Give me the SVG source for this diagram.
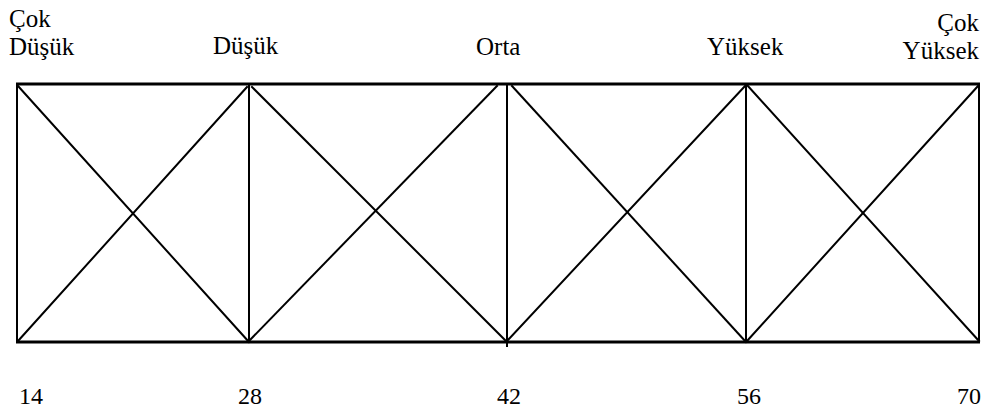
<svg xmlns="http://www.w3.org/2000/svg" width="998" height="410" viewBox="0 0 998 410">
<style>
text{font-family:'Liberation Serif','Tinos','Times New Roman','DejaVu Serif',serif;fill:#000}
.t{font-size:25px}
.n{font-size:24px}
.ln{stroke:#000;stroke-width:2;fill:none;stroke-linecap:square}
.hb{stroke:#000;stroke-width:3;fill:none}
</style>
<rect width="998" height="410" fill="#fff"/>
<g id="labels-top">
<g id="cok-dusuk"><text class="t" x="9" y="27">Çok</text><text class="t" x="9" y="55">Düşük</text></g>
<g id="dusuk"><text class="t" x="213" y="54">Düşük</text></g>
<g id="orta"><text class="t" x="476" y="55">Orta</text></g>
<g id="yuksek"><text class="t" x="707" y="55">Yüksek</text></g>
<g id="cok-yuksek"><text class="t" x="979" y="31" text-anchor="end">Çok</text><text class="t" x="979" y="59" text-anchor="end">Yüksek</text></g>
</g>
<g id="scale">
<text class="n" x="19" y="404">14</text>
<text class="n" x="238" y="404">28</text>
<text class="n" x="497" y="404">42</text>
<text class="n" x="737" y="404">56</text>
<text class="n" x="957" y="404">70</text>
</g>
<g id="connectors">
<line class="hb" x1="16" y1="84" x2="980" y2="84"/>
<line class="hb" x1="16" y1="342" x2="980" y2="342"/>
<line class="ln" x1="17" y1="84" x2="17" y2="342"/>
<line class="ln" x1="249" y1="84" x2="249" y2="342"/>
<line class="ln" x1="507" y1="84" x2="507" y2="346"/>
<line class="ln" x1="746" y1="84" x2="746" y2="342"/>
<line class="ln" x1="979" y1="84" x2="979" y2="342"/>
<line class="ln" x1="18" y1="86" x2="249" y2="342"/>
<line class="ln" x1="18" y1="341" x2="247" y2="87"/>
<line class="ln" x1="252" y1="87" x2="507" y2="342"/>
<line class="ln" x1="249" y1="341" x2="497" y2="86"/>
<line class="ln" x1="512" y1="86" x2="746" y2="342"/>
<line class="ln" x1="507" y1="341" x2="746" y2="85"/>
<line class="ln" x1="747" y1="85" x2="979" y2="341"/>
<line class="ln" x1="747" y1="341" x2="978" y2="86"/>
</g>
</svg>
